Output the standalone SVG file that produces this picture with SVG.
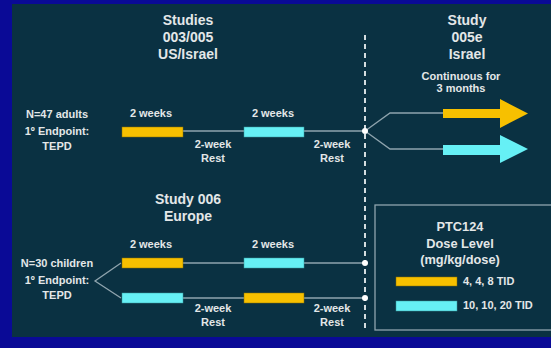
<svg xmlns="http://www.w3.org/2000/svg" width="551" height="348" viewBox="0 0 551 348">
<defs>
<style>
text{font-family:"Liberation Sans",Arial,sans-serif;font-weight:bold;fill:#e3e7e8;text-anchor:middle}
.h{font-size:14px}
.s{font-size:11px}
.xs{font-size:11px}
.l{font-size:12.8px}
.y{fill:#f7c000;stroke:#8a7000;stroke-width:0.5}
.c{fill:#66f0f5;stroke:#3a9aa0;stroke-width:0.5}
.ln{stroke:#8fa4ae;stroke-width:1.3;fill:none}
.dot{fill:#ffffff}
</style>
</defs>
<rect x="0" y="0" width="551" height="348" fill="#0a0a96"/>
<rect x="12" y="4" width="539" height="333" fill="#0a3142"/>

<g id="titles">
<text class="h" x="188" y="25">Studies</text>
<text class="h" x="188" y="42">003/005</text>
<text class="h" x="188" y="59">US/Israel</text>
<text class="h" x="467" y="25">Study</text>
<text class="h" x="467" y="42">005e</text>
<text class="h" x="467" y="59">Israel</text>
<text class="xs" x="461" y="80">Continuous for</text>
<text class="xs" x="461" y="92">3 months</text>
<text class="h" x="188" y="204">Study 006</text>
<text class="h" x="188" y="221">Europe</text>
</g>

<g id="adults">
<text class="s" x="57" y="118">N=47 adults</text>
<text class="s" x="57" y="135">1º Endpoint:</text>
<text class="s" x="57" y="150">TEPD</text>
</g>
<g id="children">
<text class="s" x="57" y="267">N=30 children</text>
<text class="s" x="57" y="284">1º Endpoint:</text>
<text class="s" x="57" y="299">TEPD</text>
</g>

<g id="connectors">
<line x1="365" y1="35" x2="365" y2="332" stroke="#d4dde0" stroke-width="2" stroke-dasharray="5 4"/>
<path class="ln" d="M183 131H365M365 131L390 113H443M365 131L390 149H443"/>
<path class="ln" d="M183 263H365M183 298H365"/>
<path class="ln" d="M121 263L95 281L121 298"/>
</g>

<g id="row1">
<text class="s" x="151" y="117">2 weeks</text>
<text class="s" x="273" y="117">2 weeks</text>
<rect class="y" x="122" y="127" width="61" height="10"/>
<rect class="c" x="244" y="127" width="60" height="10"/>
<text class="s" x="213" y="148">2-week</text>
<text class="s" x="213" y="162">Rest</text>
<text class="s" x="332" y="148">2-week</text>
<text class="s" x="332" y="162">Rest</text>
<circle class="dot" cx="365" cy="131" r="3"/>
</g>

<g id="arrows">
<path fill="#f7c000" d="M443 109H500V99L528 113.5L500 128V118H443Z"/>
<path fill="#66f0f5" d="M443 145H500V135L528 149L500 163V155H443Z"/>
</g>

<g id="row2">
<text class="s" x="151" y="248">2 weeks</text>
<text class="s" x="273" y="248">2 weeks</text>
<rect class="y" x="122" y="258" width="61" height="10"/>
<rect class="c" x="244" y="258" width="60" height="10"/>
<rect class="c" x="122" y="293" width="61" height="10"/>
<rect class="y" x="244" y="293" width="60" height="10"/>
<text class="s" x="213" y="312">2-week</text>
<text class="s" x="213" y="326">Rest</text>
<text class="s" x="332" y="312">2-week</text>
<text class="s" x="332" y="326">Rest</text>
<circle class="dot" cx="365" cy="263" r="3"/>
<circle class="dot" cx="365" cy="298" r="3"/>
</g>

<g id="legend">
<rect x="375" y="205" width="180" height="125" fill="none" stroke="#8fa4ae" stroke-width="1.3"/>
<text class="l" x="460" y="231">PTC124</text>
<text class="l" x="460" y="248">Dose Level</text>
<text class="l" x="460" y="264">(mg/kg/dose)</text>
<rect class="y" x="396" y="277" width="61" height="9"/>
<rect class="c" x="396" y="301" width="61" height="10"/>
<text class="s" x="463" y="285" style="text-anchor:start">4, 4, 8 TID</text>
<text class="s" x="463" y="309" style="text-anchor:start">10, 10, 20 TID</text>
</g>
</svg>
